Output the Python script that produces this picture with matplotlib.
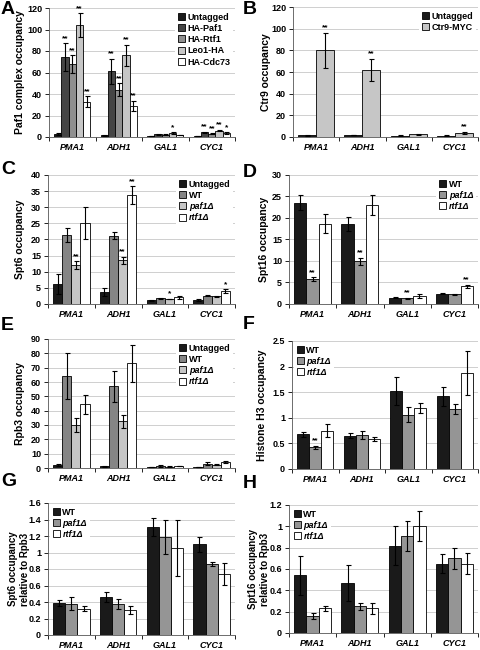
import numpy as np
import matplotlib
matplotlib.use('Agg')
import matplotlib.pyplot as plt

plt.rcParams['font.family'] = ['Liberation Sans', 'DejaVu Sans']
plt.rcParams['font.weight'] = 'bold'

genes = ['PMA1', 'ADH1', 'GAL1', 'CYC1']

# A - Paf1 complex occupancy
a_series = ['Untagged', 'HA-Paf1', 'HA-Rtf1', 'Leo1-HA', 'HA-Cdc73']
a_vals = [[3, 1.5, 1, 1], [74, 61, 2.5, 4.5], [68, 44, 2, 3], [104, 76, 3.5, 6], [33, 29, 2, 3.5]]
a_errs = [[1, 0.5, 0.3, 0.3], [13, 12, 0.5, 0.6], [8, 6, 0.4, 0.5], [11, 10, 0.8, 0.8], [5, 4.5, 0.3, 0.7]]
a_stars = [['', '', '', ''], ['**', '**', '', '**'], ['**', '**', '', '**'], ['**', '**', '*', '**'], ['**', '**', '', '*']]

# B - Ctr9 occupancy
b_series = ['Untagged', 'Ctr9-MYC']
b_vals = [[1.5, 1.8, 1.2, 1.2], [80, 62, 2.5, 4]]
b_errs = [[0.4, 0.4, 0.3, 0.3], [16, 10, 0.6, 1]]
b_stars = [['', '', '', ''], ['**', '**', '', '**']]

# C - Spt6 occupancy
c_series = ['Untagged', 'WT', 'paf1Δ', 'rtf1Δ']
c_vals = [[6.2, 3.8, 1.1, 1.2], [21.5, 21.2, 1.8, 2.6], [12, 13.5, 1.5, 2.4], [25, 33.7, 2.1, 4.0]]
c_errs = [[3.2, 1.2, 0.2, 0.2], [2.2, 1.2, 0.1, 0.1], [1.2, 1.2, 0.1, 0.2], [5, 2.8, 0.5, 0.5]]
c_stars = [['', '', '', ''], ['', '', '', ''], ['**', '**', '*', ''], ['', '**', '', '*']]

# D - Spt16 occupancy
d_series = ['WT', 'paf1Δ', 'rtf1Δ']
d_vals = [[23.6, 18.6, 1.5, 2.4], [5.8, 9.9, 1.3, 2.3], [18.7, 23.1, 1.9, 4.1]]
d_errs = [[1.8, 1.6, 0.1, 0.1], [0.4, 0.8, 0.1, 0.1], [2.3, 2.3, 0.5, 0.4]]
d_stars = [['', '', '', ''], ['**', '**', '**', ''], ['', '', '', '**']]

# E - Rpb3 occupancy
e_series = ['Untagged', 'WT', 'paf1Δ', 'rtf1Δ']
e_vals = [[2, 1.2, 0.8, 0.6], [64, 57, 1.5, 3], [30, 32.5, 1, 2.2], [44.5, 73, 1.5, 4.2]]
e_errs = [[0.8, 0.5, 0.2, 0.2], [16, 11, 0.5, 1], [5, 4.5, 0.2, 0.3], [6.5, 13, 0.2, 0.5]]

# F - Histone H3 occupancy
f_series = ['WT', 'paf1Δ', 'rtf1Δ']
f_vals = [[0.68, 0.65, 1.52, 1.42], [0.42, 0.67, 1.06, 1.17], [0.75, 0.59, 1.19, 1.87]]
f_errs = [[0.05, 0.05, 0.27, 0.19], [0.03, 0.08, 0.15, 0.09], [0.13, 0.04, 0.10, 0.43]]
f_stars = [['', '', '', ''], ['**', '', '', ''], ['', '', '', '']]

# G - Spt6 / Rpb3
g_series = ['WT', 'paf1Δ', 'rtf1Δ']
g_vals = [[0.39, 0.46, 1.31, 1.10], [0.38, 0.38, 1.19, 0.86], [0.32, 0.30, 1.06, 0.74]]
g_errs = [[0.04, 0.06, 0.11, 0.09], [0.08, 0.06, 0.21, 0.02], [0.03, 0.05, 0.34, 0.13]]

# H - Spt16 / Rpb3
h_series = ['WT', 'paf1Δ', 'rtf1Δ']
h_vals = [[0.54, 0.47, 0.82, 0.65], [0.16, 0.25, 0.91, 0.70], [0.23, 0.23, 1.00, 0.65]]
h_errs = [[0.18, 0.17, 0.18, 0.09], [0.03, 0.03, 0.14, 0.10], [0.02, 0.05, 0.14, 0.10]]

W, H = 480, 650
fig = plt.figure(figsize=(4.8, 6.5), dpi=100)


def box(l, t, r, b):
    return [l / W, 1 - b / H, (r - l) / W, (b - t) / H]


def panel(rect, series, vals, errs, colors, ymax, ystep, ylabel, stars=None,
          legloc='upper right', letter='', letpos=(0, 0), labx=20, labsize=7.5):
    ax = fig.add_axes(box(*rect))
    n = len(series)
    x = np.arange(len(genes))
    width = 0.78 / n
    for i in range(n):
        xs = x - 0.39 + width * (i + 0.5)
        ax.bar(xs, vals[i], width, color=colors[i], edgecolor='black', linewidth=0.6,
               label=series[i], zorder=3)
        ax.errorbar(xs, vals[i], yerr=errs[i], fmt='none', ecolor='black', elinewidth=0.8,
                    capsize=1.8, capthick=0.8, zorder=4)
        if stars is not None:
            for j in range(len(genes)):
                if stars[i][j]:
                    ax.text(xs[j], vals[i][j] + errs[i][j] + ymax * 0.01, stars[i][j],
                            ha='center', va='bottom', fontsize=6, fontweight='bold', zorder=5)
    ax.set_xlim(-0.5, len(genes) - 0.5)
    ax.set_ylim(0, ymax)
    ticks = np.arange(0, ymax + ystep / 2, ystep)
    ax.set_yticks(ticks)
    ax.set_yticklabels(['{:g}'.format(round(t, 2)) for t in ticks])
    ax.set_xticks(x)
    ax.set_xticklabels(genes, fontstyle='italic', fontweight='bold', fontsize=6.5)
    ax.set_xticks(np.arange(-0.5, len(genes)), minor=True)
    ax.tick_params(axis='x', which='major', length=0, pad=4)
    ax.tick_params(axis='x', which='minor', length=3, width=0.6)
    ax.tick_params(axis='y', labelsize=6.5, length=3, width=0.6, pad=2)
    ax.yaxis.grid(True, color='#c8c8c8', linewidth=0.6, zorder=0)
    ax.set_axisbelow(True)
    for s in ['top', 'right']:
        ax.spines[s].set_visible(False)
    for s in ['left', 'bottom']:
        ax.spines[s].set_linewidth(0.6)
        ax.spines[s].set_color('#555555')
    ax.set_ylabel(ylabel, fontsize=labsize, fontweight='bold', va='center')
    # place y label at a fixed pixel column like the reference
    ax.yaxis.set_label_coords((labx - rect[0]) / (rect[2] - rect[0]), 0.5)
    leg = ax.legend(loc=legloc, fontsize=6.5, frameon=True,
                    edgecolor='none', facecolor='white', framealpha=1, fancybox=False,
                    handlelength=0.8, handleheight=0.8, handletextpad=0.3,
                    labelspacing=0.25, borderpad=0.3, borderaxespad=0.2)
    for t in leg.get_texts():
        if 'Δ' in t.get_text():
            t.set_fontstyle('italic')
        t.set_fontweight('bold')
    fig.text(letpos[0] / W, 1 - letpos[1] / H, letter, fontsize=14, fontweight='bold',
             ha='left', va='center')
    return ax


c5 = ['#1a1a1a', '#454545', '#8f8f8f', '#c6c6c6', 'white']
c4 = ['#1a1a1a', '#858585', '#c6c6c6', 'white']
c3 = ['#1a1a1a', '#959595', 'white']
c2 = ['#1a1a1a', '#c6c6c6']

panel((49, 8, 235, 137), a_series, a_vals, a_errs, c5, 120, 20, 'Paf1 complex occupancy',
      stars=a_stars, letter='A', letpos=(1, 10), labx=20)
panel((293, 7, 478, 137), b_series, b_vals, b_errs, c2, 120, 20, 'Ctr9 occupancy',
      stars=b_stars, letter='B', letpos=(243, 10), labx=266)
panel((48, 175, 235, 304), c_series, c_vals, c_errs, c4, 40, 5, 'Spt6 occupancy',
      stars=c_stars, letter='C', letpos=(1, 170), labx=20)
panel((289, 175, 478, 304), d_series, d_vals, d_errs, c3, 30, 5, 'Spt16 occupancy',
      stars=d_stars, letter='D', letpos=(243, 172), labx=264)
panel((48, 339, 235, 468), e_series, e_vals, e_errs, c4, 90, 10, 'Rpb3 occupancy',
      letter='E', letpos=(1, 326), labx=20)
panel((292, 341, 478, 469), f_series, f_vals, f_errs, c3, 2.5, 0.5, 'Histone H3 occupancy',
      stars=f_stars, legloc='upper left', letter='F', letpos=(243, 324), labx=262)
panel((48, 503, 235, 635), g_series, g_vals, g_errs, c3, 1.6, 0.2,
      'Spt6 occupancy\nrelative to Rpb3', legloc='upper left', letter='G', letpos=(1, 482),
      labx=19, labsize=7)
panel((289, 505, 478, 633), h_series, h_vals, h_errs, c3, 1.2, 0.2,
      'Spt16 occupancy\nrelative to Rpb3', legloc='upper left', letter='H', letpos=(243, 484),
      labx=259, labsize=7)

fig.savefig('out.png', dpi=100)
